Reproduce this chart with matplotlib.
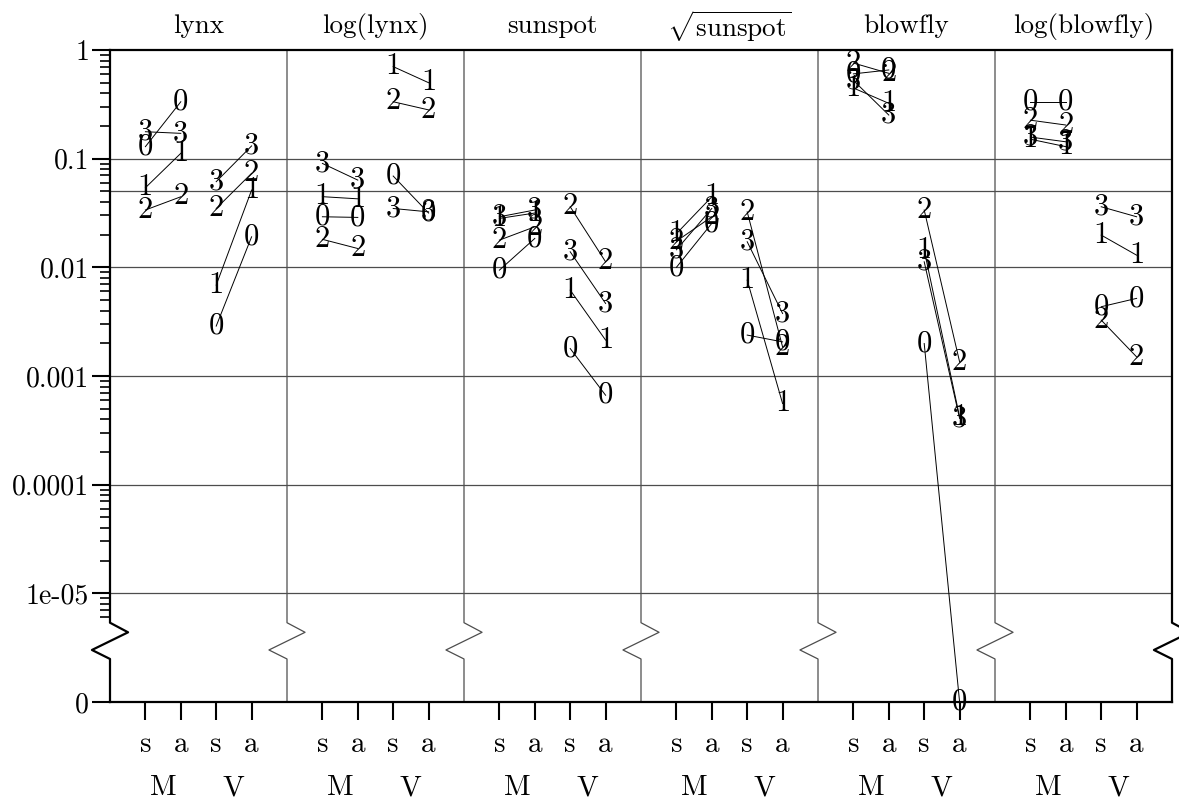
import numpy as np
import matplotlib
matplotlib.use('Agg')
import matplotlib.pyplot as plt

plt.rcParams['font.family'] = ['cmr10', 'DejaVu Serif']
plt.rcParams['mathtext.fontset'] = 'cm'
plt.rcParams['axes.unicode_minus'] = False

# panel titles
titles = ['lynx', 'log(lynx)', 'sunspot', r'$\sqrt{\mathrm{sunspot}}$', 'blowfly', 'log(blowfly)']
names = ['0', '1', '2', '3']
pos_labels = ['s', 'a', 's', 'a']
group_labels = ['M', 'V']
ytick_vals = [0, 1e-05, 1e-04, 1e-03, 1e-02, 1e-01, 1]
ytick_labels = ['0', '1e-05', '0.0001', '0.001', '0.01', '0.1', '1']
grid_vals = [1e-05, 1e-04, 1e-03, 1e-02, 0.05, 0.1]

# rows = label 0..3, columns = M-s, M-a, V-s, V-a
lynx = [[0.129, 0.334, 0.00288, 0.0191],
        [0.054, 0.112, 0.00686, 0.0514],
        [0.0337, 0.0446, 0.0348, 0.0733],
        [0.177, 0.171, 0.0614, 0.131]]
log_lynx = [[0.0292, 0.0288, 0.0692, 0.0316],
            [0.0447, 0.0427, 0.703, 0.500],
            [0.0181, 0.0149, 0.334, 0.281],
            [0.0904, 0.0635, 0.0348, 0.0324]]
sunspot = [[0.00942, 0.01845, 0.00179, 0.000665],
           [0.0282, 0.0316, 0.00617, 0.00214],
           [0.0178, 0.0236, 0.0361, 0.01125],
           [0.0292, 0.0337, 0.0139, 0.00465]]
sqrt_sunspot = [[0.0100, 0.0254, 0.00238, 0.00206],
                [0.0204, 0.0446, 0.00762, 0.000558],
                [0.0174, 0.0292, 0.0324, 0.00185],
                [0.0145, 0.0348, 0.0172, 0.00376]]
blowfly = [[0.603, 0.655, 0.00199, 0.0],
           [0.447, 0.323, 0.0144, 0.00042],
           [0.759, 0.610, 0.0337, 0.00135],
           [0.525, 0.252, 0.01125, 0.000407]]
log_blowfly = [[0.334, 0.334, 0.00434, 0.00518],
               [0.151, 0.129, 0.0198, 0.01294],
               [0.226, 0.204, 0.00327, 0.0015],
               [0.158, 0.143, 0.0361, 0.0292]]
panels = [lynx, log_lynx, sunspot, sqrt_sunspot, blowfly, log_blowfly]

ZERO_AT = -6.0  # where 0 sits on the log axis


def fwd(v):
    v = np.asarray(v, dtype=float)
    out = np.full(v.shape, ZERO_AT)
    ok = v > 0
    out[ok] = np.log10(v[ok])
    return out


def inv(y):
    return 10.0 ** np.asarray(y, dtype=float)


fig = plt.figure(figsize=(11.79, 8.02), dpi=100)
ax = fig.add_axes([110 / 1179, 100 / 802, 1062 / 1179, 652 / 802])
ax.set_yscale('function', functions=(fwd, inv))
ax.set_xlim(0, 30)
ax.set_ylim(0, 1)

for s in ['left', 'right']:
    ax.spines[s].set_visible(False)
for s in ['top', 'bottom']:
    ax.spines[s].set_linewidth(1.6)

# grid
for g in grid_vals:
    ax.axhline(g, color='0.3', lw=0.9, zorder=1)

# vertical separators with the axis break zigzag
xt = ax.get_xaxis_transform()
brk_y = [1, 0.1216, 0.1069, 0.0798, 0.066, 0]
dx = 0.51
for i in range(7):
    x = 5 * i
    xs = [x, x, x + dx, x - dx, x, x]
    edge = i in (0, 6)
    ax.plot(xs, brk_y, transform=xt, color='black' if edge else '0.3',
            lw=1.6 if edge else 0.9, clip_on=False, zorder=2)

# y ticks
ax.set_yticks(ytick_vals)
ax.set_yticklabels(ytick_labels)
minor = [k * 10.0 ** e for e in range(-6, 0) for k in range(2, 10)]
minor = [m for m in minor if m > 5.5e-06]
ax.set_yticks(minor, minor=True)
ax.tick_params(axis='y', which='major', direction='out', length=13, width=1.5,
               pad=2, labelsize=20)
ax.tick_params(axis='y', which='minor', direction='out', length=7, width=1.2)

# x ticks
xticks = [5 * p + j + 1 for p in range(6) for j in range(4)]
ax.set_xticks(xticks)
ax.set_xticklabels(pos_labels * 6)
ax.tick_params(axis='x', direction='out', length=13, width=1.5, pad=8,
               labelsize=21)

for p in range(6):
    ax.text(5 * p + 2.5, 1.036, titles[p], transform=xt, ha='center',
            va='center', fontsize=19.5)
    for g, lab in enumerate(group_labels):
        ax.text(5 * p + 1.5 + 2 * g, -0.132, lab, transform=xt, ha='center',
                va='center', fontsize=21)

# the data: connect s -> a within M and within V
for p, data in enumerate(panels):
    for k, row in enumerate(data):
        xs = [5 * p + j + 1 for j in range(4)]
        ax.plot(xs[0:2], row[0:2], color='black', lw=0.7, zorder=3, clip_on=False)
        ax.plot(xs[2:4], row[2:4], color='black', lw=0.7, zorder=3, clip_on=False)
        for x, v in zip(xs, row):
            ax.text(x, v, names[k], ha='center', va='center', fontsize=22,
                    zorder=4)

fig.savefig('out.png', dpi=100)
